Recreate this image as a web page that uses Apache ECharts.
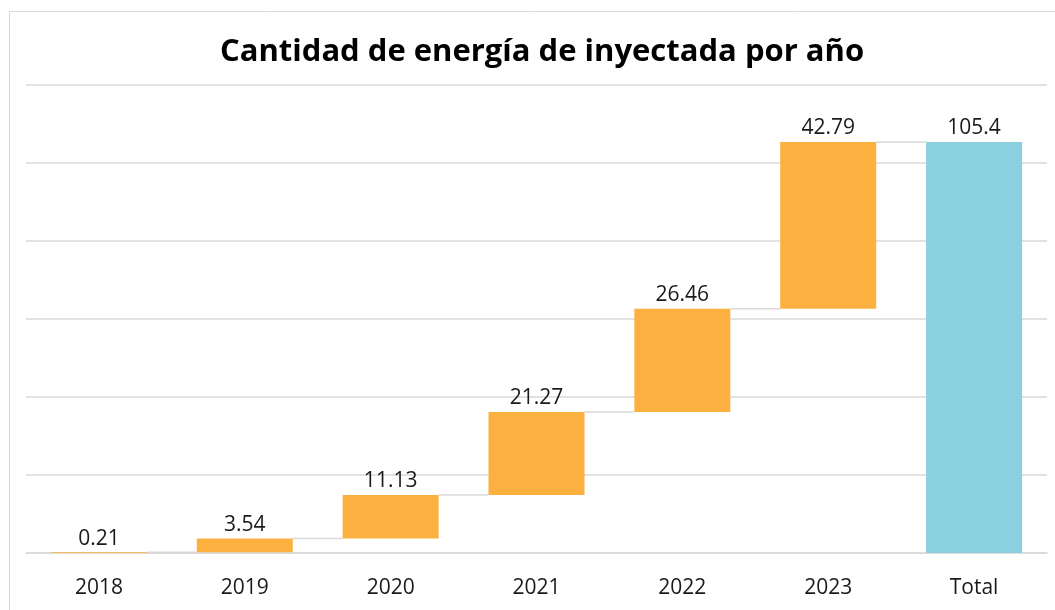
<!DOCTYPE html>
<html>
<head>
<meta charset="utf-8">
<title>Cantidad de energía de inyectada por año</title>
<script src="https://cdn.jsdelivr.net/npm/echarts@6/dist/echarts.min.js"></script>
<style>
  html, body { margin: 0; padding: 0; background: #fff; }
  #chart { width: 1055px; height: 610px; }
</style>
</head>
<body>
<div id="chart"></div>
<script>
const categories = ['2018', '2019', '2020', '2021', '2022', '2023', 'Total']
const yearValues = [0.21, 3.54, 11.13, 21.27, 26.46, 42.79]
const totalValue = 105.4

const fontFamily = '"Open Sans", "Noto Sans", sans-serif'
const barWidth = 96

// running sum: where each year's bar starts, and where it ends
const bases = []
const tops = []
let running = 0
yearValues.forEach((v) => {
  bases.push(running)
  running += v
  tops.push(running)
})

const baseData = bases.concat([0])
const valueData = yearValues.concat([{ value: totalValue, itemStyle: { color: '#8BD0DF' } }])
const connectorData = tops.map((t, i) => [i, t])

const chart = echarts.init(document.getElementById('chart'))

chart.setOption({
  animation: false,
  title: {
    text: 'Cantidad de energía de inyectada por año',
    left: 215,
    top: 32,
    textStyle: {
      fontFamily,
      fontWeight: 'bold',
      fontSize: 31,
      color: '#000'
    }
  },
  graphic: [
    {
      type: 'rect',
      shape: { x: 9.5, y: 11.5, width: 1100, height: 700 },
      style: { fill: 'none', stroke: '#d9d9d9', lineWidth: 1 },
      silent: true
    }
  ],
  grid: {
    left: 26,
    right: 8,
    top: 85,
    bottom: 57
  },
  xAxis: {
    type: 'category',
    data: categories,
    axisTick: { show: false },
    axisLine: { lineStyle: { color: '#d9d9d9', width: 1.5 } },
    axisLabel: {
      margin: 25,
      fontFamily,
      fontSize: 21,
      color: '#1a1a1a'
    }
  },
  yAxis: {
    type: 'value',
    min: 0,
    max: 120,
    interval: 20,
    axisLabel: { show: false },
    axisLine: { show: false },
    axisTick: { show: false },
    splitLine: { lineStyle: { color: '#d9d9d9', width: 1.5 } }
  },
  series: [
    {
      type: 'bar',
      stack: 'w',
      barWidth,
      data: baseData,
      itemStyle: { color: 'transparent' },
      silent: true
    },
    {
      type: 'bar',
      stack: 'w',
      barWidth,
      data: valueData,
      itemStyle: { color: '#FBB040' },
      label: {
        show: true,
        position: 'top',
        distance: 3,
        fontFamily,
        fontSize: 21,
        color: '#1a1a1a'
      }
    },
    {
      type: 'custom',
      data: connectorData,
      z: 1,
      renderItem(params, api) {
        const pt = api.coord([api.value(0), api.value(1)])
        const band = api.size([1, 0])[0]
        const half = barWidth / 2
        return {
          type: 'line',
          shape: {
            x1: pt[0] + half,
            y1: pt[1],
            x2: pt[0] + band - half,
            y2: pt[1]
          },
          style: { stroke: '#d9d9d9', lineWidth: 1.5 }
        }
      }
    }
  ]
})
</script>
</body>
</html>
